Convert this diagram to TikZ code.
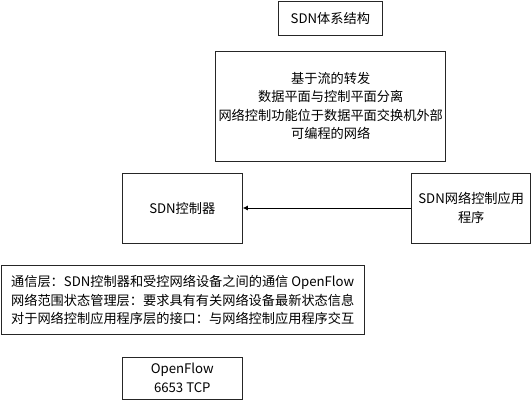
\documentclass[tikz,border=0pt]{standalone}
\usepackage{fontspec}
\setmainfont{Noto Sans CJK SC}
\usepackage{tikz}
\usetikzlibrary{arrows.meta}
\newcommand{\boxfont}{\fontsize{13.2}{18.5}\selectfont}
\tikzset{sdnbox/.style={rectangle, draw=black!85, line width=0.9pt, inner sep=2pt, align=center, font=\boxfont}}

\begin{document}
\begin{tikzpicture}[x=1pt,y=-1pt]

\useasboundingbox (0,0) rectangle (532,402);

\node[sdnbox, minimum width=104, minimum height=34] (0) at (330.3,18) {SDN体系结构};
\node[sdnbox, minimum width=230, minimum height=110] (1) at (330.7,106) {基于流的转发\\数据平面与控制平面分离\\网络控制功能位于数据平面交换机外部\\可编程的网络};
\node[sdnbox, minimum width=120, minimum height=70] (2) at (182.3,208) {SDN控制器};
\node[sdnbox, minimum width=119, minimum height=70] (3) at (471.2,208) {SDN网络控制应用\\程序};
\node[sdnbox, minimum width=363, minimum height=69] (4) at (182.7,300.3) {通信层：SDN控制器和受控网络设备之间的通信 OpenFlow\\网络范围状态管理层：要求具有有关网络设备最新状态信息\\对于网络控制应用程序层的接口：与网络控制应用程序交互};
\node[sdnbox, minimum width=120, minimum height=42] (5) at (182.3,378) {OpenFlow\\6653 TCP};

%\draw[thin] (2) -- (4);

\draw[line width=0.9pt, -{Latex[length=5pt,width=5pt]}] (3) -- (2);

\end{tikzpicture}
\end{document}
